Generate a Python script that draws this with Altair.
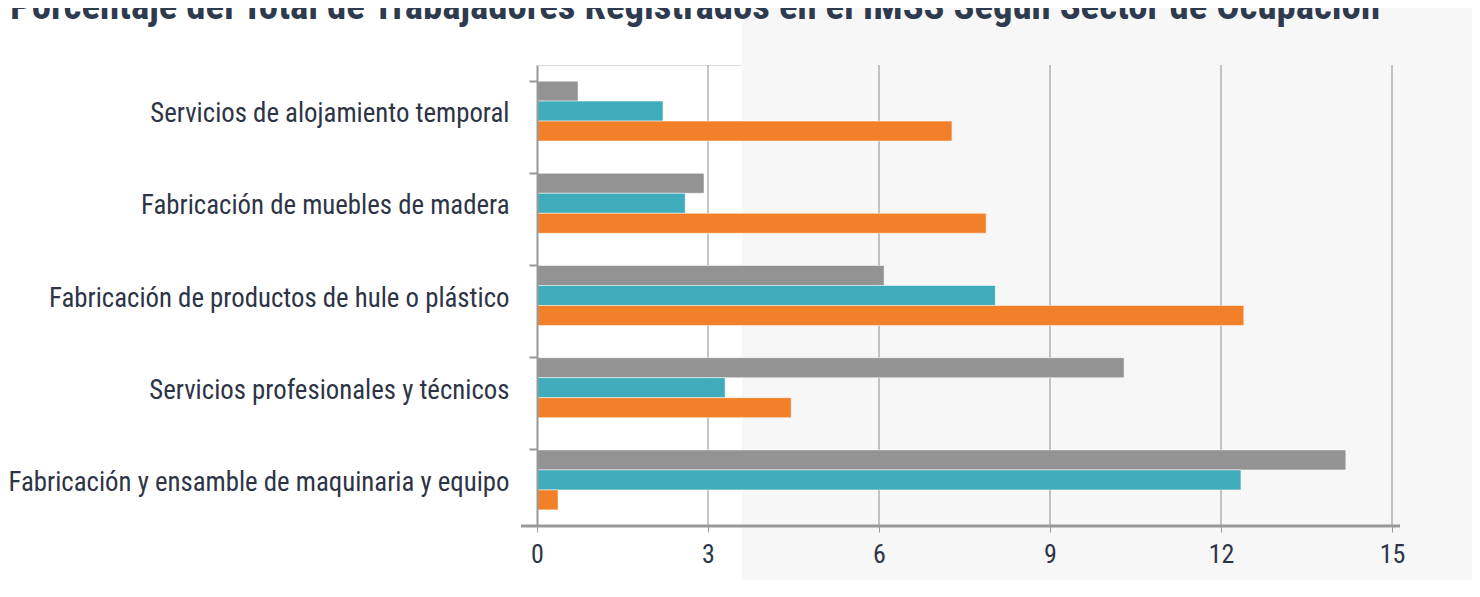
import altair as alt
import pandas as pd

categories = [
    "Servicios de alojamiento temporal",
    "Fabricación de muebles de madera",
    "Fabricación de productos de hule o plástico",
    "Servicios profesionales y técnicos",
    "Fabricación y ensamble de maquinaria y equipo",
]
series = ["Serie 1", "Serie 2", "Serie 3"]
serie1 = [0.72, 2.93, 6.09, 10.30, 14.19]   # gris
serie2 = [2.21, 2.60, 8.04, 3.30, 12.35]    # turquesa
serie3 = [7.28, 7.88, 12.40, 4.46, 0.37]    # naranja
colors = ["#939393", "#3EACBA", "#F28029"]
x_ticks = [0, 3, 6, 9, 12, 15]
title_text = ["Porcentaje del Total de Trabajadores Registrados en el IMSS Según Sector de Ocupación"]

rows = []
for name, vals in zip(series, [serie1, serie2, serie3]):
    for c, v in zip(categories, vals):
        rows.append({"sector": c, "serie": name, "valor": v})
df = pd.DataFrame(rows)
grid_df = pd.DataFrame({"t": [t for t in x_ticks if t > 0]})

W, H = 855, 461
FONT = "Roboto Condensed, Liberation Sans Narrow, DejaVu Sans Condensed, Roboto, sans-serif"
TXT = "#2d3446"

xscale = alt.Scale(domain=[0, 15], nice=False, zero=True)

bg = alt.Chart(pd.DataFrame({"a": [0]})).mark_rect(color="#f7f7f7").encode(
    x=alt.value(205), x2=alt.value(935), y=alt.value(-57), y2=alt.value(H + 54)
)

grid = alt.Chart(grid_df).mark_rule(color="#8c8c8c", strokeWidth=1).encode(
    x=alt.X("t:Q", scale=xscale),
    y=alt.value(0),
    y2=alt.value(H),
)

bars = alt.Chart(df).mark_bar(stroke="white", strokeOpacity=0.5, strokeWidth=1).encode(
    x=alt.X(
        "valor:Q",
        scale=xscale,
        axis=alt.Axis(
            values=x_ticks, format="d", title=None, grid=False, domain=False,
            tickColor="#999999", tickSize=6, tickWidth=1,
            labelFont=FONT, labelFontSize=26, labelColor=TXT,
            labelPadding=9, labelFlush=False, zindex=2,
        ),
    ),
    y=alt.Y(
        "sector:N", sort=categories,
        scale=alt.Scale(paddingInner=0.35, paddingOuter=0.175),
        axis=alt.Axis(
            title=None, grid=False, domainColor="#999999", domainWidth=2,
            tickColor="#999999", tickWidth=2, tickSize=8, bandPosition=0,
            labelFont=FONT, labelFontSize=26.8, labelColor=TXT,
            labelPadding=20, labelLimit=800, labelOffset=3, zindex=2,
        ),
    ),
    yOffset=alt.YOffset("serie:N", sort=series),
    color=alt.Color("serie:N", scale=alt.Scale(domain=series, range=colors), legend=None),
)

xline = alt.Chart(pd.DataFrame({"a": [0]})).mark_rule(color="#999999", strokeWidth=3).encode(
    x=alt.value(-16), x2=alt.value(W + 8), y=alt.value(H)
)

title = alt.Chart(pd.DataFrame({"t": title_text})).mark_text(
    align="left", baseline="alphabetic", font=FONT, fontSize=38.8,
    fontWeight="bold", color="#2e3a4e",
).encode(text="t:N", x=alt.value(-527), y=alt.value(-46))

chart = alt.layer(bg, grid, bars, xline, title).properties(
    width=W,
    height=H,
    autosize=alt.AutoSizeParams(type="none"),
    padding={"left": 529, "top": 57, "right": 80, "bottom": 54},
).configure_view(stroke=None).configure(background="white")

chart.save("out.html", embed_options={"renderer": "svg", "actions": False})
